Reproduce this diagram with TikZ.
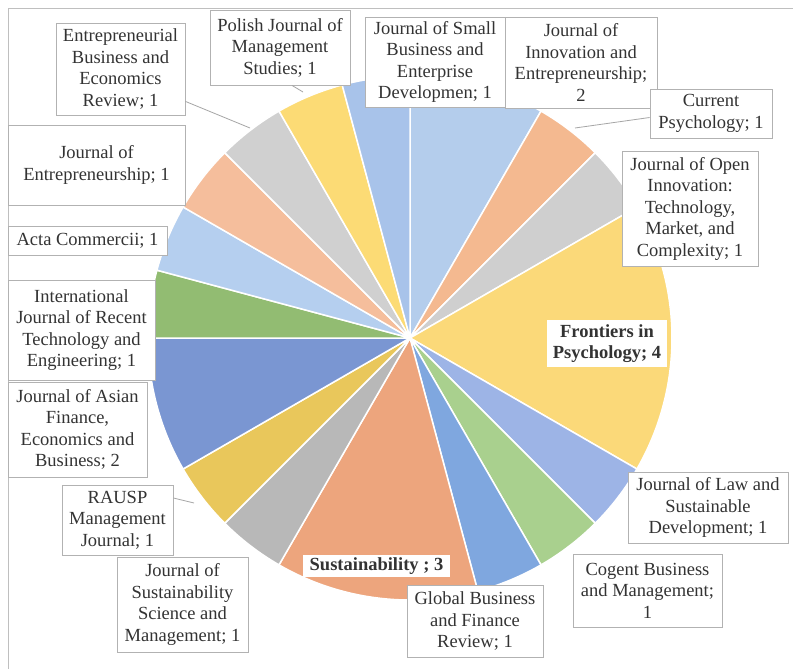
\documentclass[tikz,border=0pt]{standalone}
\usepackage{fontspec}
\setmainfont{Liberation Serif}
\definecolor{cLB}{HTML}{B4CDEC}
\definecolor{cOR}{HTML}{F4B990}
\definecolor{cGR}{HTML}{CFCFCF}
\definecolor{cYE}{HTML}{FBD979}
\definecolor{cBL}{HTML}{9DB4E6}
\definecolor{cGN}{HTML}{A9D08E}
\definecolor{cMB}{HTML}{7FA7DF}
\definecolor{cOR2}{HTML}{EDA57D}
\definecolor{cGR2}{HTML}{B8B8B8}
\definecolor{cYE2}{HTML}{E9C75B}
\definecolor{cDB}{HTML}{7A96D2}
\definecolor{cGN2}{HTML}{92BC72}
\definecolor{cLB2}{HTML}{B5CFEF}
\definecolor{cOR3}{HTML}{F5BE9C}
\definecolor{cGR3}{HTML}{D0D0D0}
\definecolor{cYE3}{HTML}{FCDB75}
\definecolor{cBL2}{HTML}{A8C3EA}
\newcommand\pieslice[3]{\path[wedge, fill=#3] (C) -- ++(#1:262) arc[start angle=#1, end angle=#2, radius=262] -- cycle;}
\tikzset{
  lbl/.style={draw=black!30, line width=0.8pt, fill=white, align=center,
    font=\fontsize{18.5}{21.5}\selectfont, text=black!80, inner sep=1pt},
  lead/.style={draw=black!35, line width=0.8pt},
  wedge/.style={draw=white, line width=1.5pt, line join=round}
}
\begin{document}
\begin{tikzpicture}[x=1pt,y=1pt]
\useasboundingbox (0,0) rectangle (793,-669);
\fill[white] (0,0) rectangle (793,-669);
\draw[black!25, line width=0.8pt] (8,-669) -- (8,-8) -- (793,-8);
\coordinate (C) at (410,-338);
% slices
\pieslice{60}{90}{cLB}
\pieslice{45}{60}{cOR}
\pieslice{30}{45}{cGR}
\pieslice{-30}{30}{cYE}
\pieslice{-45}{-30}{cBL}
\pieslice{-60}{-45}{cGN}
\pieslice{-75}{-60}{cMB}
\pieslice{-120}{-75}{cOR2}
\pieslice{-135}{-120}{cGR2}
\pieslice{-150}{-135}{cYE2}
\pieslice{-180}{-150}{cDB}
\pieslice{165}{180}{cGN2}
\pieslice{150}{165}{cLB2}
\pieslice{135}{150}{cOR3}
\pieslice{120}{135}{cGR3}
\pieslice{105}{120}{cYE3}
\pieslice{90}{105}{cBL2}
% leader end points
\coordinate (p1) at (250,-128);
\coordinate (p2) at (303,-92);
\coordinate (p5) at (575,-128);
\coordinate (p13) at (194,-503);
% labels
\node[lbl, minimum width=129pt, minimum height=92pt] (b1) at (120.5,-69) {Entrepreneurial\\Business and\\Economics\\Review; 1};
\node[lbl, minimum width=140pt, minimum height=75pt] (b2) at (280,-47.5) {Polish Journal of\\Management\\Studies; 1};
\node[lbl, minimum width=140pt, minimum height=90pt] (b3) at (435,-62) {Journal of Small\\Business and\\Enterprise\\Developmen; 1};
\node[lbl, minimum width=152pt, minimum height=91pt] (b4) at (581,-62.5) {Journal of\\Innovation and\\Entrepreneurship;\\2};
\node[lbl, minimum width=122pt, minimum height=49pt] (b5) at (711,-113.5) {Current\\Psychology; 1};
\node[lbl, minimum width=136pt, minimum height=115pt] (b6) at (690,-208.5) {Journal of Open\\Innovation:\\Technology,\\Market, and\\Complexity; 1};
\node[lbl, draw=none, minimum width=120pt, minimum height=47pt, font=\fontsize{18.5}{21.5}\selectfont\bfseries] (b7) at (607,-343.5) {Frontiers in\\Psychology; 4};
\node[lbl, minimum width=160pt, minimum height=71pt] (b8) at (708,-507.5) {Journal of Law and\\Sustainable\\Development; 1};
\node[lbl, minimum width=149pt, minimum height=73pt] (b9) at (647.5,-590.5) {Cogent Business\\and Management;\\1};
\node[lbl, minimum width=136pt, minimum height=72pt] (b10) at (475,-621) {Global Business\\and Finance\\Review; 1};
\node[lbl, draw=none, minimum width=147pt, minimum height=22pt, font=\fontsize{18.5}{21.5}\selectfont\bfseries] (b11) at (376.5,-566) {Sustainability ; 3};
\node[lbl, minimum width=131pt, minimum height=95pt] (b12) at (182.5,-604.5) {Journal of\\Sustainability\\Science and\\Management; 1};
\node[lbl, minimum width=111pt, minimum height=70pt] (b13) at (117.5,-520) {RAUSP\\Management\\Journal; 1};
\node[lbl, minimum width=139pt, minimum height=95pt] (b14) at (77.5,-429.5) {Journal of Asian\\Finance,\\Economics and\\Business; 2};
\node[lbl, minimum width=147pt, minimum height=100pt] (b15) at (81.5,-330) {International\\Journal of Recent\\Technology and\\Engineering; 1};
\node[lbl, minimum width=159pt, minimum height=29pt] (b16) at (87.5,-240.5) {Acta Commercii; 1};
\node[lbl, minimum width=177pt, minimum height=80pt] (b17) at (96.5,-165) {Journal of\\Entrepreneurship; 1};
% leaders
\draw[lead] ([yshift=14pt]b1.south east) -- (p1);
\draw[lead] ([xshift=12pt]b2.south) -- (p2);
\draw[lead] ([yshift=-4pt]b5.west) -- (p5);
\draw[lead] ([yshift=22pt]b13.east) -- (p13);
\end{tikzpicture}
\end{document}
